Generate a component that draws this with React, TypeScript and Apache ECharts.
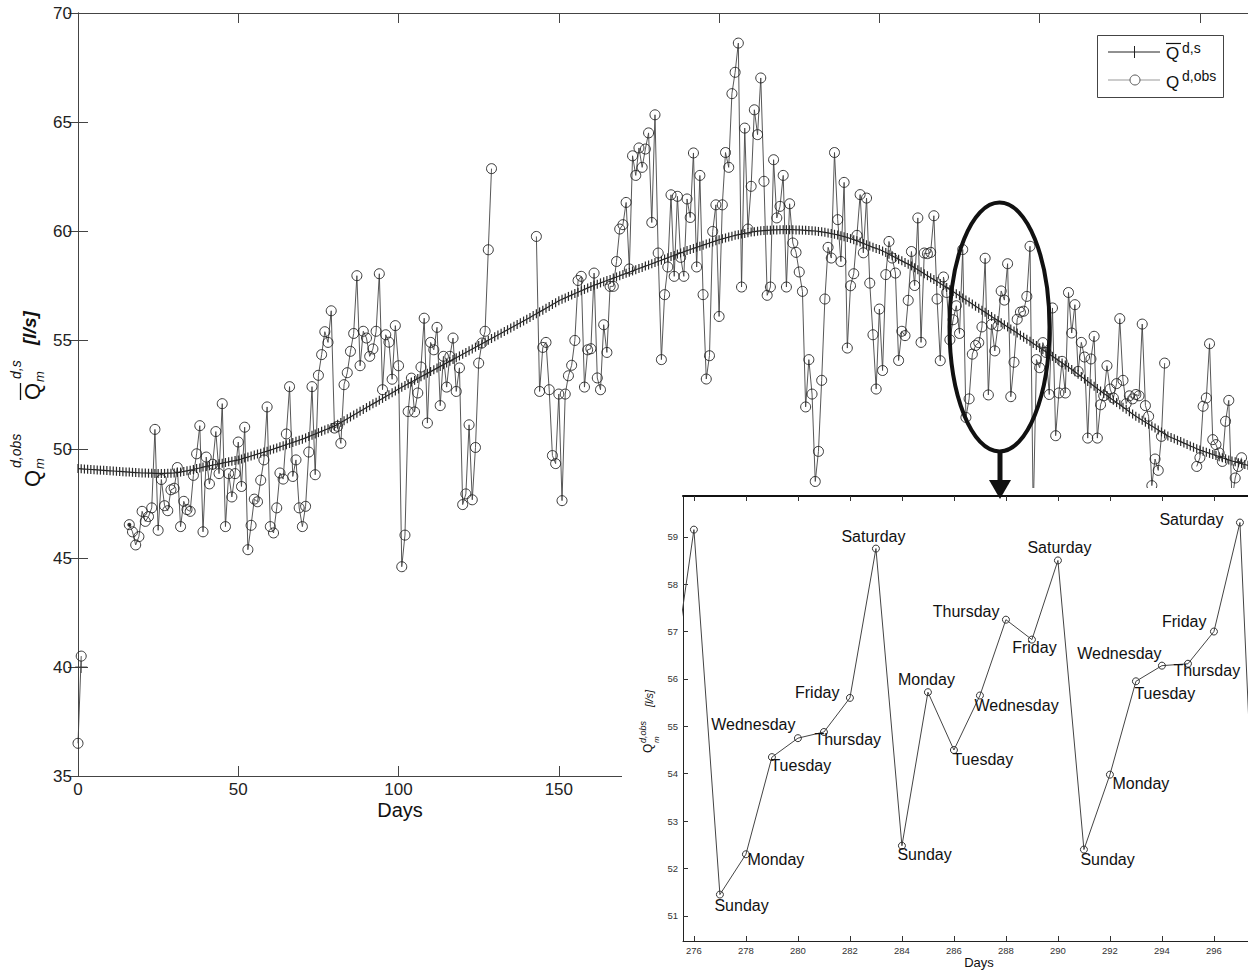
import React, { useEffect, useRef } from "react";
import * as echarts from "echarts";

const FONT = "'Liberation Sans', Arial, Helvetica, sans-serif";

// Simulated mean daily discharge, one value per day (day 0..365)
const simValues: number[] = [
  49.10, 49.09, 49.08, 49.07, 49.06, 49.05, 49.04, 49.03, 49.02, 49.01,
  49.00, 48.99, 48.98, 48.97, 48.96, 48.95, 48.94, 48.93, 48.92, 48.91,
  48.90, 48.90, 48.89, 48.89, 48.88, 48.88, 48.88, 48.88, 48.89, 48.89,
  48.90, 48.92, 48.94, 48.97, 49.00, 49.03, 49.06, 49.10, 49.13, 49.17,
  49.20, 49.23, 49.26, 49.29, 49.32, 49.35, 49.38, 49.41, 49.44, 49.47,
  49.50, 49.54, 49.59, 49.63, 49.68, 49.72, 49.77, 49.81, 49.86, 49.90,
  49.95, 50.00, 50.05, 50.10, 50.15, 50.20, 50.25, 50.30, 50.35, 50.40,
  50.45, 50.51, 50.57, 50.63, 50.69, 50.75, 50.81, 50.87, 50.93, 50.99,
  51.05, 51.13, 51.22, 51.30, 51.39, 51.47, 51.56, 51.64, 51.73, 51.81,
  51.90, 51.98, 52.07, 52.15, 52.24, 52.32, 52.41, 52.49, 52.58, 52.66,
  52.75, 52.83, 52.91, 52.99, 53.07, 53.15, 53.23, 53.31, 53.39, 53.47,
  53.55, 53.63, 53.71, 53.79, 53.87, 53.95, 54.03, 54.11, 54.19, 54.27,
  54.35, 54.43, 54.51, 54.59, 54.67, 54.75, 54.83, 54.91, 54.99, 55.07,
  55.15, 55.23, 55.31, 55.39, 55.47, 55.55, 55.63, 55.71, 55.79, 55.87,
  55.95, 56.03, 56.12, 56.20, 56.29, 56.37, 56.46, 56.54, 56.63, 56.71,
  56.80, 56.87, 56.93, 57.00, 57.06, 57.13, 57.19, 57.26, 57.32, 57.39,
  57.45, 57.51, 57.56, 57.62, 57.67, 57.73, 57.78, 57.84, 57.89, 57.95,
  58.00, 58.06, 58.11, 58.17, 58.22, 58.28, 58.33, 58.39, 58.44, 58.50,
  58.55, 58.61, 58.66, 58.72, 58.77, 58.83, 58.88, 58.94, 58.99, 59.05,
  59.10, 59.15, 59.20, 59.25, 59.30, 59.35, 59.40, 59.45, 59.50, 59.55,
  59.60, 59.64, 59.68, 59.72, 59.76, 59.80, 59.83, 59.86, 59.89, 59.92,
  59.95, 59.97, 59.99, 60.01, 60.02, 60.03, 60.04, 60.05, 60.05, 60.06,
  60.06, 60.06, 60.06, 60.06, 60.05, 60.05, 60.04, 60.03, 60.02, 60.01,
  60.00, 59.98, 59.96, 59.94, 59.91, 59.88, 59.85, 59.82, 59.78, 59.74,
  59.70, 59.65, 59.60, 59.55, 59.49, 59.43, 59.37, 59.31, 59.25, 59.20,
  59.15, 59.08, 59.01, 58.93, 58.86, 58.78, 58.70, 58.63, 58.55, 58.48,
  58.40, 58.31, 58.22, 58.13, 58.04, 57.95, 57.86, 57.77, 57.68, 57.59,
  57.50, 57.41, 57.31, 57.22, 57.12, 57.03, 56.93, 56.84, 56.74, 56.65,
  56.55, 56.46, 56.36, 56.27, 56.17, 56.08, 55.98, 55.89, 55.79, 55.70,
  55.60, 55.51, 55.41, 55.32, 55.22, 55.13, 55.03, 54.94, 54.84, 54.75,
  54.65, 54.55, 54.45, 54.35, 54.25, 54.15, 54.05, 53.95, 53.85, 53.75,
  53.65, 53.54, 53.43, 53.32, 53.21, 53.10, 52.99, 52.88, 52.77, 52.66,
  52.55, 52.45, 52.34, 52.24, 52.13, 52.03, 51.92, 51.82, 51.71, 51.61,
  51.50, 51.41, 51.32, 51.23, 51.14, 51.05, 50.96, 50.87, 50.78, 50.69,
  50.60, 50.53, 50.47, 50.40, 50.34, 50.27, 50.21, 50.14, 50.08, 50.01,
  49.95, 49.90, 49.85, 49.80, 49.75, 49.70, 49.65, 49.60, 49.55, 49.50,
  49.45, 49.41, 49.37, 49.33, 49.29, 49.25,
];

// Observed daily discharge, index = day (null = no observation)
const obsValues: (number | null)[] = [
  36.5, 40.5, null, null, null, null, null, null, null, null,
  null, null, null, null, null, null, 46.53, 46.2, 45.6, 45.98,
  47.14, 46.68, 46.9, 47.3, 50.9, 46.27, 48.6, 47.4, 47.17, 48.13,
  48.2, 49.15, 46.44, 47.6, 47.22, 47.14, 48.79, 49.78, 51.07, 46.2,
  49.63, 48.4, 49.3, 50.8, 48.87, 52.08, 46.44, 48.87, 47.8, 48.87,
  50.32, 48.28, 51.0, 45.38, 46.5, 47.7, 47.58, 48.57, 49.5, 51.93,
  46.44, 46.15, 47.3, 48.9, 48.62, 50.69, 52.86, 48.74, 49.5, 47.3,
  46.44, 47.37, 49.86, 52.86, 48.82, 53.38, 54.33, 55.38, 54.89, 56.34,
  50.96, 51.04, 50.26, 52.95, 53.5, 54.48, 55.3, 57.95, 53.82, 55.4,
  55.09, 54.25, 54.59, 55.4, 58.04, 52.72, 55.24, 54.9, 53.2, 55.66,
  53.82, 44.6, 46.05, 51.72, 53.25, 51.7, 52.57, 53.76, 56.0, 51.19,
  54.89, 54.55, 55.58, 51.99, 54.25, 52.84, 54.25, 55.09, 52.64, 53.72,
  47.45, 47.94, 51.11, 47.67, 50.07, 53.94, 54.86, 55.4, 59.14, 62.86,
  null, null, null, null, null, null, null, null, null, null,
  null, null, null, 59.75, 52.64, 54.66, 54.89, 52.72, 49.7, 49.33,
  52.52, 47.63, 52.52, 53.36, 53.84, 54.98, 57.73, 57.92, 52.84, 54.55,
  54.6, 58.07, 53.26, 52.72, 55.7, 54.43, 57.46, 57.46, 58.6, 60.09,
  60.29, 61.31, 58.26, 63.45, 62.55, 63.81, 62.92, 63.76, 64.5, 60.39,
  65.33, 58.99, 54.1, 57.08, 58.35, 61.66, 57.92, 61.59, 58.79, 57.92,
  61.47, 60.62, 63.58, 58.35, 62.55, 57.08, 53.21, 54.28, 59.98, 61.2,
  56.08, 61.2, 63.6, 62.92, 66.3, 67.28, 68.62, 57.43, 64.72, 60.09,
  62.05, 65.56, 64.42, 67.02, 62.28, 57.05, 57.43, 63.27, 60.6, 61.13,
  62.55, 57.43, 61.25, 59.45, 59.02, 58.12, 57.23, 51.93, 54.1, 52.52,
  48.51, 49.89, 53.15, 56.88, 59.25, 58.76, 63.6, 60.52, 58.6, 62.23,
  54.63, 57.49, 58.04, 59.8, 61.67, 59.0, 61.51, 57.61, 55.24, 52.75,
  56.42, 53.6, 58.0, 59.52, 58.76, 58.07, 54.06, 55.4, 55.2, 56.82,
  59.06, 57.5, 60.6, 54.89, 58.99, 58.96, 59.02, 60.7, 56.88, 54.05,
  57.89, 57.18, 55.01, 55.93, 56.57, 55.3, 59.15, 51.45, 52.3, 54.35,
  54.75, 54.88, 55.6, 58.75, 52.48, 55.72, 54.5, 55.65, 57.25, 56.83,
  58.5, 52.4, 53.98, 55.95, 56.28, 56.32, 57.0, 59.3, 47.0, 54.1,
  53.73, 54.88, 54.43, 52.5, 56.47, 50.61, 52.57, 54.02, 52.57, 57.18,
  55.32, 56.62, 53.56, 54.89, 54.22, 50.5, 54.13, 55.17, 50.5, 52.03,
  52.44, 53.82, 52.75, 52.34, 53.0, 55.98, 53.15, 52.08, 52.44, 52.3,
  52.5, 52.44, 55.73, 51.99, 51.5, 48.32, 49.54, 49.02, 50.58, 53.94,
  null, null, null, null, null, null, null, null, null, 49.2,
  49.6, 51.96, 52.34, 54.83, 50.43, 50.2, 49.82, 49.43, 51.27, 52.23,
  47.6, 48.67, 49.2, 49.6,
];

// Weekday annotations in the zoomed inset
const weekdayNames: [number, string][] = [
  [277, "Sunday"], [278, "Monday"], [279, "Tuesday"], [280, "Wednesday"],
  [281, "Thursday"], [282, "Friday"], [283, "Saturday"], [284, "Sunday"],
  [285, "Monday"], [286, "Tuesday"], [287, "Wednesday"], [288, "Thursday"],
  [289, "Friday"], [290, "Saturday"], [291, "Sunday"], [292, "Monday"],
  [293, "Tuesday"], [294, "Wednesday"], [295, "Thursday"], [296, "Friday"],
  [297, "Saturday"],
];

const markedObsDay = 16;
const extraSimPoint: [number, number] = [1, 40];

const mainXTicks = [0, 50, 100, 150, 200, 250, 300, 350];
const mainYTicks = [35, 40, 45, 50, 55, 60, 65, 70];
const insetXTicks = [276, 278, 280, 282, 284, 286, 288, 290, 292, 294, 296];
const insetYTicks = [51, 52, 53, 54, 55, 56, 57, 58, 59];
const insetRange = { dayFrom: 274, dayTo: 299 };

// label placement (style): align, dx, dy of the text anchor relative to the point
const labelPlacement: Record<number, [string, number, number]> = {
  277: ["left", -3, 13], 278: ["left", 4, 8], 279: ["left", 1, 11],
  280: ["right", 0, -11], 281: ["left", -7, 10], 282: ["right", -8, -3],
  283: ["center", 0, -10], 284: ["left", -2, 11], 285: ["center", 1, -10],
  286: ["left", 1, 12], 287: ["left", -3, 12], 288: ["right", -4, -6],
  289: ["center", 5, 10], 290: ["center", 4, -10], 291: ["left", -1, 12],
  292: ["left", 5, 11], 293: ["left", 1, 15], 294: ["right", 2, -10],
  295: ["left", -12, 9], 296: ["right", -5, -8], 297: ["right", -14, -1],
};
const INSET_SYMBOL = 7;

function txt(x: number, y: number, text: string, size: number, extra: any = {}) {
  const align = extra.align || "left";
  const z = extra.z ?? 130;
  return {
    type: "text",
    x,
    y,
    z,
    silent: true,
    style: {
      text,
      fontSize: size,
      fontFamily: FONT,
      fontStyle: extra.italic ? "italic" : "normal",
      fontWeight: extra.bold ? "bold" : "normal",
      fill: extra.fill || "#111",
      align,
      textAlign: align,
      verticalAlign: "middle",
      textVerticalAlign: "middle",
    },
  };
}

function buildOption() {
  const simData = simValues.map((v, d) => [d, v]);
  const obsData = obsValues.map((v, d) => [d, v]);
  const half = INSET_SYMBOL / 2;
  const insetData = obsValues
    .map((v, d) => ({ d, v }))
    .filter((p) => p.d >= insetRange.dayFrom && p.d <= insetRange.dayTo && p.v != null)
    .map(({ d, v }) => {
      const nm = weekdayNames.find((n) => n[0] === d);
      const pl = labelPlacement[d];
      if (!nm || !pl) return { value: [d, v] };
      return {
        value: [d, v],
        label: {
          show: true,
          formatter: nm[1],
          position: [pl[1] + half, pl[2] + half],
          align: pl[0],
          verticalAlign: "middle",
        },
      };
    });

  const axisLineMain = { show: true, lineStyle: { color: "#444", width: 1 } };
  const tickMain = { show: true, inside: true, length: 10, lineStyle: { color: "#444", width: 1 } };

  return {
    animation: false,
    backgroundColor: "#fff",
    grid: [
      { left: 78, top: 13, width: 1171, height: 763 },
      { left: 683, top: 496, width: 565, height: 445, z: 100 },
    ],
    xAxis: [
      {
        type: "value", gridIndex: 0, min: 0, max: 365, interval: 50,
        axisLine: axisLineMain, axisTick: { ...tickMain, customValues: mainXTicks },
        splitLine: { show: false },
        axisLabel: { fontSize: 17, color: "#222", fontFamily: FONT, margin: 5, customValues: mainXTicks },
      },
      {
        type: "value", gridIndex: 0, position: "top", min: 0, max: 365, interval: 50,
        axisLine: axisLineMain, axisTick: { ...tickMain, customValues: mainXTicks },
        splitLine: { show: false }, axisLabel: { show: false },
      },
      {
        type: "value", gridIndex: 1, min: 275.58, max: 297.31, z: 100,
        axisLine: { show: true, onZero: false, lineStyle: { color: "#222", width: 1 } },
        axisTick: { show: true, inside: true, length: 5, customValues: insetXTicks, lineStyle: { color: "#333" } },
        splitLine: { show: false },
        axisLabel: { fontSize: 9.5, color: "#333", fontFamily: FONT, margin: 4, customValues: insetXTicks },
      },
      {
        type: "value", gridIndex: 1, position: "top", min: 275.58, max: 297.31, z: 100,
        axisLine: { show: true, onZero: false, lineStyle: { color: "#111", width: 2 } },
        axisTick: { show: true, inside: true, length: 5, customValues: insetXTicks, lineStyle: { color: "#333" } },
        splitLine: { show: false }, axisLabel: { show: false },
      },
    ],
    yAxis: [
      {
        type: "value", gridIndex: 0, min: 35, max: 70, interval: 5,
        axisLine: axisLineMain, axisTick: { ...tickMain, customValues: mainYTicks },
        splitLine: { show: false },
        axisLabel: { fontSize: 17, color: "#222", fontFamily: FONT, margin: 6, customValues: mainYTicks },
      },
      {
        type: "value", gridIndex: 0, position: "right", min: 35, max: 70, interval: 5,
        axisLine: axisLineMain, axisTick: { ...tickMain, customValues: mainYTicks },
        splitLine: { show: false }, axisLabel: { show: false },
      },
      {
        type: "value", gridIndex: 1, min: 50.47, max: 59.86, z: 100,
        axisLine: { show: true, onZero: false, lineStyle: { color: "#222", width: 1 } },
        axisTick: { show: true, inside: true, length: 5, customValues: insetYTicks, lineStyle: { color: "#333" } },
        splitLine: { show: false },
        axisLabel: { fontSize: 9.5, color: "#333", fontFamily: FONT, margin: 5, customValues: insetYTicks },
      },
    ],
    series: [
      {
        name: "obs", type: "line", xAxisIndex: 0, yAxisIndex: 0, z: 2, silent: true,
        data: obsData, connectNulls: false, showSymbol: true, showAllSymbol: true,
        symbol: "circle", symbolSize: 10,
        lineStyle: { color: "#444", width: 0.9 },
        itemStyle: { color: "none", borderColor: "#222", borderWidth: 0.9 },
      },
      {
        name: "sim", type: "line", xAxisIndex: 0, yAxisIndex: 0, z: 3, silent: true,
        data: simData, showSymbol: true, showAllSymbol: true,
        symbol: "rect", symbolSize: [1.2, 9],
        lineStyle: { color: "#222", width: 1.2 },
        itemStyle: { color: "#2a2a2a" },
      },
      {
        type: "scatter", xAxisIndex: 0, yAxisIndex: 0, z: 4, silent: true,
        data: [[markedObsDay, obsValues[markedObsDay]]],
        symbol: "circle", symbolSize: 4, itemStyle: { color: "#000" },
      },
      {
        type: "scatter", xAxisIndex: 0, yAxisIndex: 0, z: 4, silent: true,
        data: [extraSimPoint], symbol: "rect", symbolSize: [1, 12], itemStyle: { color: "#333" },
      },
      {
        type: "scatter", xAxisIndex: 0, yAxisIndex: 0, z: 4, silent: true,
        data: [extraSimPoint], symbol: "rect", symbolSize: [12, 1], itemStyle: { color: "#333" },
      },
      {
        name: "inset", type: "line", xAxisIndex: 2, yAxisIndex: 2, z: 100, silent: true,
        data: insetData, showSymbol: true, showAllSymbol: true,
        symbol: "circle", symbolSize: INSET_SYMBOL,
        lineStyle: { color: "#444", width: 1 },
        itemStyle: { color: "none", borderColor: "#333", borderWidth: 1 },
        label: { show: false, fontSize: 16, color: "#111", fontFamily: FONT },
        labelLayout: { hideOverlap: false },
      },
    ],
    graphic: [
      // white panel under the inset
      {
        type: "rect", z: 50, silent: true,
        shape: { x: 622, y: 488, width: 640, height: 490 },
        style: { fill: "#fff" },
      },
      // ellipse and arrow
      {
        type: "ellipse", z: 120, silent: true,
        shape: { cx: 999.5, cy: 327, rx: 50, ry: 124.5 },
        style: { fill: "none", stroke: "#111", lineWidth: 4 },
      },
      {
        type: "line", z: 120, silent: true,
        shape: { x1: 1000, y1: 451, x2: 1000, y2: 482 },
        style: { stroke: "#111", lineWidth: 5 },
      },
      {
        type: "polygon", z: 120, silent: true,
        shape: { points: [[989, 480], [1011, 480], [1000, 499]] },
        style: { fill: "#111" },
      },
      // legend
      {
        type: "rect", z: 120, silent: true,
        shape: { x: 1097.5, y: 35.5, width: 126, height: 62 },
        style: { fill: "#fff", stroke: "#444", lineWidth: 1 },
      },
      { type: "line", z: 121, silent: true, shape: { x1: 1108, y1: 52, x2: 1160, y2: 52 }, style: { stroke: "#222", lineWidth: 1 } },
      { type: "line", z: 121, silent: true, shape: { x1: 1134.5, y1: 46, x2: 1134.5, y2: 58 }, style: { stroke: "#222", lineWidth: 1 } },
      { type: "line", z: 121, silent: true, shape: { x1: 1108, y1: 80, x2: 1160, y2: 80 }, style: { stroke: "#999", lineWidth: 1 } },
      { type: "circle", z: 122, silent: true, shape: { cx: 1135, cy: 80, r: 5 }, style: { fill: "#fff", stroke: "#555", lineWidth: 1 } },
      txt(1166, 53.5, "Q", 17, { z: 122 }),
      { type: "line", z: 122, silent: true, shape: { x1: 1166, y1: 43.5, x2: 1181, y2: 43.5 }, style: { stroke: "#111", lineWidth: 1.2 } },
      txt(1182, 47.5, "d,s", 14, { z: 122 }),
      txt(1166, 82.5, "Q", 17, { z: 122 }),
      txt(1182, 76, "d,obs", 14, { z: 122 }),
      // main axis titles
      txt(400, 810, "Days", 20, { align: "center" }),
      {
        type: "group", x: 40, y: 487, rotation: Math.PI / 2, z: 130,
        children: [
          txt(0, -8, "Q", 22),
          txt(18, -1, "m", 13, { italic: true }),
          txt(19, -24, "d,obs", 14, { italic: true }),
          txt(87, -8, "Q", 22),
          { type: "line", z: 130, silent: true, shape: { x1: 87, y1: -19.5, x2: 104, y2: -19.5 }, style: { stroke: "#111", lineWidth: 1.3 } },
          txt(105, -1, "m", 13, { italic: true }),
          txt(108, -24, "d,s", 14, { italic: true }),
          txt(142, -11, "[l/s]", 19, { italic: true, bold: true }),
        ],
      },
      // inset axis titles
      txt(979, 962, "Days", 13, { align: "center" }),
      {
        type: "group", x: 653, y: 753, rotation: Math.PI / 2, z: 130,
        children: [
          txt(0, -5, "Q", 12),
          txt(10, 3, "m", 8, { italic: true }),
          txt(10, -10, "d,obs", 9, { italic: true }),
          txt(46, -4, "[l/s]", 11, { italic: true }),
        ],
      },
    ],
  };
}

export default function App() {
  const ref = useRef<HTMLDivElement>(null);
  useEffect(() => {
    if (!ref.current) return;
    const chart = echarts.init(ref.current, undefined, { renderer: "svg" });
    chart.setOption(buildOption() as any);
    return () => chart.dispose();
  }, []);
  return (
    <div
      ref={ref}
      style={{ position: "absolute", left: 0, top: 0, width: 1248, height: 971, background: "#fff" }}
    />
  );
}
